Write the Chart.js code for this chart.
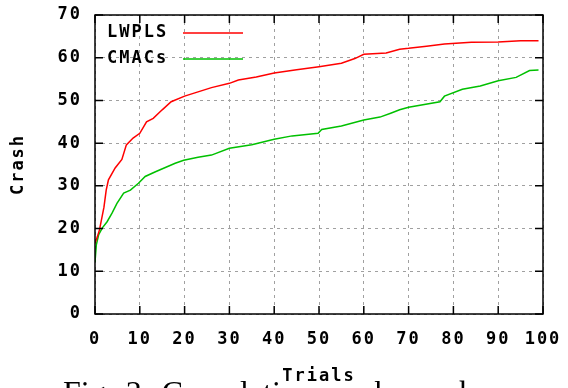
<!DOCTYPE html>
<html>
<head>
<meta charset="utf-8">
<script src="https://cdn.jsdelivr.net/npm/chart.js@4/dist/chart.umd.min.js"></script>
<style>
  html, body { margin: 0; padding: 0; background: #fff; overflow: hidden; }
  #wrap { position: relative; width: 568px; height: 388px; overflow: hidden; }
  #caption {
    position: absolute; left: 63px; top: 376px; line-height: 32px;
    font-family: 'Liberation Serif', 'DejaVu Serif', serif; font-size: 32px;
    word-spacing: 4px; white-space: nowrap; color: #000;
  }
</style>
</head>
<body>
<div id="wrap">
  <canvas id="crashChart" width="568" height="388"></canvas>
  <div id="caption">Fig. 3. Cumulative crash number</div>
</div>
<script>
// values
const lwplsTrials = [0, 0.5, 1, 2, 2.5, 3, 4.5, 6, 7, 8.5, 10, 11.5, 13, 15, 17, 20, 23, 26, 30, 32, 36, 40, 45, 50, 55, 58, 60, 65, 68, 70, 74, 78, 84, 90, 95, 99];
const lwplsCrash = [16.5, 18, 19.7, 25, 29, 31.4, 34.2, 36.2, 39.6, 41.2, 42.3, 45, 45.8, 47.8, 49.7, 51, 52, 53, 54, 54.8, 55.5, 56.4, 57.2, 57.9, 58.7, 59.8, 60.8, 61.1, 62, 62.2, 62.7, 63.2, 63.6, 63.7, 64, 64];

const cmacsTrials = [0, 0.3, 0.8, 1.6, 2.7, 3.8, 4.9, 6.4, 7.9, 9.7, 11.2, 13.5, 15.7, 17.9, 19.8, 23, 26, 30, 35, 40, 44, 49.8, 50.6, 55, 60, 63.6, 66, 68, 70, 77, 78, 82, 86, 90, 94, 97, 99];
const cmacsCrash = [12.2, 16.2, 18.5, 20.1, 21.6, 23.6, 25.9, 28.3, 29, 30.6, 32.2, 33.3, 34.3, 35.3, 36, 36.7, 37.2, 38.8, 39.6, 40.9, 41.7, 42.3, 43.2, 44, 45.4, 46.1, 47, 47.8, 48.4, 49.7, 51, 52.6, 53.4, 54.6, 55.4, 57, 57.1];

const xTicks = [0, 10, 20, 30, 40, 50, 60, 70, 80, 90, 100];
const yTicks = [0, 10, 20, 30, 40, 50, 60, 70];

const seriesNames = ['LWPLS', 'CMACs'];
const seriesColors = ['#ff0000', '#00c000'];

const fontFamily = "'DejaVu Sans Mono', 'Liberation Mono', monospace";
const monoFont = { family: fontFamily, size: 17, weight: 'bold' };
// line heights only move labels / shrink the label overflow padding
const xTickFont = { family: fontFamily, size: 17, weight: 'bold', lineHeight: 2.8 };
const yTickFont = { family: fontFamily, size: 17, weight: 'bold', lineHeight: 0.1 };

function toPoints(xs, ys) {
    return xs.map((x, i) => ({ x: x, y: ys[i] }));
}

// gnuplot-like spacing of the bitmap font
const spacingPlugin = {
    id: 'spacing',
    beforeDraw(chart) {
        chart.ctx.letterSpacing = '2px';
    }
};

// frame with inward ticks on all four sides
const framePlugin = {
    id: 'frame',
    afterDraw(chart) {
        const { ctx, chartArea: a, scales } = chart;
        ctx.save();
        ctx.setLineDash([]);
        ctx.strokeStyle = '#000';
        ctx.lineWidth = 1.5;
        ctx.strokeRect(a.left, a.top, a.right - a.left, a.bottom - a.top);
        ctx.beginPath();
        xTicks.forEach(v => {
            const px = scales.x.getPixelForValue(v);
            ctx.moveTo(px, a.bottom); ctx.lineTo(px, a.bottom - 8);
            ctx.moveTo(px, a.top); ctx.lineTo(px, a.top + 8);
        });
        yTicks.forEach(v => {
            const py = scales.y.getPixelForValue(v);
            ctx.moveTo(a.left, py); ctx.lineTo(a.left + 8, py);
            ctx.moveTo(a.right, py); ctx.lineTo(a.right - 8, py);
        });
        ctx.stroke();
        ctx.restore();
    }
};

// legend inside the plot, text then line sample
const keyPlugin = {
    id: 'key',
    afterDraw(chart) {
        const { ctx, chartArea: a } = chart;
        ctx.save();
        ctx.setLineDash([]);
        ctx.font = 'bold 17px ' + fontFamily;
        ctx.textBaseline = 'middle';
        ctx.textAlign = 'left';
        chart.data.datasets.forEach((ds, i) => {
            const y = a.top + 18 + i * 26;
            ctx.fillStyle = '#000';
            ctx.fillText(ds.label, a.left + 12, y);
            ctx.strokeStyle = ds.borderColor;
            ctx.lineWidth = 1.5;
            ctx.beginPath();
            ctx.moveTo(a.left + 88, y);
            ctx.lineTo(a.left + 148, y);
            ctx.stroke();
        });
        ctx.restore();
    }
};

const ctx = document.getElementById('crashChart').getContext('2d');
const crashChart = new Chart(ctx, {
    type: 'line',
    data: {
        datasets: [{
            label: seriesNames[0],
            data: toPoints(lwplsTrials, lwplsCrash),
            borderColor: seriesColors[0],
            borderWidth: 1.5,
            pointRadius: 0,
            fill: false,
        }, {
            label: seriesNames[1],
            data: toPoints(cmacsTrials, cmacsCrash),
            borderColor: seriesColors[1],
            borderWidth: 1.5,
            pointRadius: 0,
            fill: false,
        }]
    },
    options: {
        responsive: false,
        animation: false,
        devicePixelRatio: 1,
        layout: { padding: { top: 15, right: 25, left: 0, bottom: 0 } },
        plugins: {
            legend: { display: false },
            tooltip: { enabled: false }
        },
        scales: {
            x: {
                type: 'linear',
                min: 0,
                max: 100,
                afterBuildTicks: s => { s.ticks = xTicks.map(v => ({ value: v })); },
                afterFit: s => { s.height = 74; },
                ticks: { color: '#000', font: xTickFont, padding: 2, maxRotation: 0, autoSkip: false },
                grid: { color: '#a0a0a0', lineWidth: 1, drawTicks: false },
                border: { display: false, dash: [3, 4] },
                title: { display: true, text: 'Trials', color: '#000', font: monoFont, padding: { top: 0, bottom: 1 } }
            },
            y: {
                min: 0,
                max: 70,
                afterBuildTicks: s => { s.ticks = yTicks.map(v => ({ value: v })); },
                afterFit: s => { s.width = 95; },
                ticks: { color: '#000', font: yTickFont, padding: 13 },
                grid: { color: '#a0a0a0', lineWidth: 1, drawTicks: false },
                border: { display: false, dash: [3, 4] },
                title: { display: true, text: 'Crash', color: '#000', font: monoFont, padding: { top: 8, bottom: 0 } }
            }
        }
    },
    plugins: [spacingPlugin, framePlugin, keyPlugin]
});
</script>
</body>
</html>
